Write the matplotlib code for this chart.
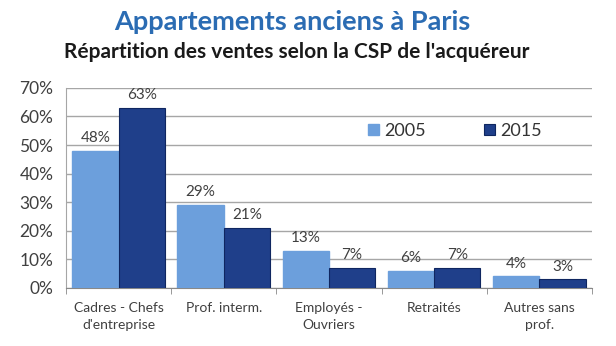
import matplotlib
matplotlib.use('Agg')
import matplotlib.pyplot as plt
import numpy as np

# donnees
categories = ['Cadres - Chefs\nd\'entreprise', 'Prof. interm.', 'Employés -\nOuvriers',
              'Retraités', 'Autres sans\nprof.']
v2005 = [48, 29, 13, 6, 4]
v2015 = [63, 21, 7, 7, 3]
yticks = [0, 10, 20, 30, 40, 50, 60, 70]

plt.rcParams['font.family'] = ['Lato', 'DejaVu Sans']

fig = plt.figure(figsize=(6.16, 3.46), dpi=100)
ax = fig.add_axes([0.107, 0.168, 0.854, 0.578])

x = np.arange(len(categories))
w = 0.44
b1 = ax.bar(x - w/2, v2005, w, color='#6c9fdc', edgecolor='#6c9fdc', label='2005', zorder=3)
b2 = ax.bar(x + w/2, v2015, w, color='#1f3f8a', edgecolor='#0f2660', linewidth=0.8,
            label='2015', zorder=3)

for bars, vals in ((b1, v2005), (b2, v2015)):
    for r, v in zip(bars, vals):
        ax.text(r.get_x() + r.get_width()/2, v + 2, '%d%%' % v, ha='center', va='bottom',
                fontsize=11, color='#404040')

ax.set_xlim(-0.5, len(categories) - 0.5)
ax.set_ylim(0, 70)
ax.set_yticks(yticks)
ax.set_yticklabels(['%d%%' % t for t in yticks], fontsize=12.5, color='#404040')
ax.yaxis.grid(True, color='#a6a6a6', linewidth=1, zorder=0)
ax.tick_params(axis='y', length=0, pad=9)

ax.set_xticks(x)
ax.set_xticklabels(categories, fontsize=10, color='#404040', linespacing=1.5)
ax.set_xticks(np.arange(len(categories) + 1) - 0.5, minor=True)
ax.tick_params(axis='x', which='major', length=0, pad=10)
ax.tick_params(axis='x', which='minor', length=4, color='#888888', direction='out')

for s in ('top', 'right'):
    ax.spines[s].set_visible(False)
ax.spines['left'].set_color('#a6a6a6')
ax.spines['bottom'].set_color('#888888')

leg = ax.legend(loc='center', bbox_to_anchor=(0.74, 0.785), ncol=2, frameon=True,
                fontsize=13, handlelength=0.6, handleheight=0.6, handletextpad=0.3,
                columnspacing=3.2, borderpad=0.2, fancybox=False)
leg.get_frame().set_edgecolor('white')
leg.get_frame().set_facecolor('white')
leg.get_frame().set_alpha(1)
for t in leg.get_texts():
    t.set_color('#333333')

fig.text(0.474, 0.935, 'Appartements anciens à Paris', ha='center', va='center',
         fontsize=19.5, fontweight='bold', color='#2b6cb3')
fig.text(0.482, 0.85, "Répartition des ventes selon la CSP de l'acquéreur", ha='center',
         va='center', fontsize=15, fontweight='bold', color='#1a1a1a')

fig.savefig('out.png', dpi=100)
